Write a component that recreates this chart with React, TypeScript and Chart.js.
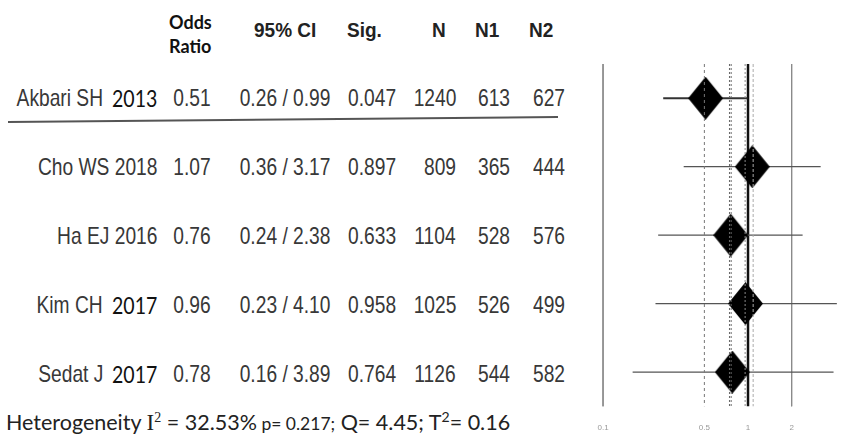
import React, { useEffect, useRef } from "react";
import { Chart, registerables } from "chart.js";

Chart.register(...registerables);

// ---------- data ----------
const studyNames = ["Akbari SH", "Cho WS", "Ha EJ", "Kim CH", "Sedat J"];
const studyYears = ["2013", "2018", "2016", "2017", "2017"];
const yearOwnFont = [true, false, false, true, true];
const oddsRatio = [0.51, 1.07, 0.76, 0.96, 0.78];
const ciLow = [0.26, 0.36, 0.24, 0.23, 0.16];
const ciHigh = [0.99, 3.17, 2.38, 4.1, 3.89];
const sigValues = ["0.047", "0.897", "0.633", "0.958", "0.764"];
const nTotal = [1240, 809, 1104, 1025, 1126];
const nGroup1 = [613, 365, 528, 526, 544];
const nGroup2 = [627, 444, 576, 499, 582];
const xTickValues = [0.1, 0.5, 1, 2];
const refLineValues = [0.1, 0.5, 0.745, 0.765, 0.955, 1, 1.085, 2];
const heterogeneity = { i2: "32.53%", p: "0.217", q: "4.45", t2: "0.16" };

// ---------- styles (kept separate from data) ----------
const refLineColors = ["#8a8a8a", "#777", "#666", "#666", "#888", "#111", "#aaa", "#8a8a8a"];
const refLineWidths = [1, 1, 1, 1, 1, 2.5, 1, 1];
const refLineDashes: number[][] = [[], [3, 3], [2, 2], [2, 2], [2, 2], [], [3, 2], []];

const W = 846;
const H = 436;
const ROW_TOP = 0.5;
const ROW_BOTTOM = 5.5;
const Y_MAX = 5.7;
const AREA_TOP = 64;
const AREA_BOTTOM = 422;
const ARIAL = '"Liberation Sans", Arial, sans-serif';
const CAL = 'Lato, "Open Sans", sans-serif';

// row pixel centres (same geometry as the chart's y scale)
const PX_PER_ROW = (AREA_BOTTOM - AREA_TOP) / (Y_MAX - ROW_TOP);
const rowY = (i: number) => AREA_TOP + (i + 1 - ROW_TOP) * PX_PER_ROW;

function makeDiamond(w: number, h: number) {
  const c = document.createElement("canvas");
  c.width = w;
  c.height = h;
  const ctx = c.getContext("2d")!;
  ctx.fillStyle = "#000";
  ctx.beginPath();
  ctx.moveTo(w / 2, 0);
  ctx.lineTo(w, h / 2);
  ctx.lineTo(w / 2, h);
  ctx.lineTo(0, h / 2);
  ctx.closePath();
  ctx.fill();
  return c;
}

const Cell: React.FC<{ right: number; y: number; children: React.ReactNode; style?: React.CSSProperties }> = ({
  right,
  y,
  children,
  style,
}) => (
  <div
    style={{
      position: "absolute",
      right: W - right,
      top: y - 14,
      height: 28,
      lineHeight: "28px",
      fontSize: 24,
      fontFamily: ARIAL,
      color: "#383838",
      whiteSpace: "nowrap",
      transform: "scaleX(0.8)",
      transformOrigin: "right center",
      ...style,
    }}
  >
    {children}
  </div>
);

const Head: React.FC<{ left: number; y: number; children: React.ReactNode; style?: React.CSSProperties }> = ({
  left,
  y,
  children,
  style,
}) => (
  <div
    style={{
      position: "absolute",
      left,
      top: y - 12,
      height: 24,
      lineHeight: "24px",
      fontSize: 20,
      fontWeight: 700,
      fontFamily: ARIAL,
      color: "#222",
      whiteSpace: "nowrap",
      transform: "scaleX(0.95)",
      transformOrigin: "left center",
      ...style,
    }}
  >
    {children}
  </div>
);

export default function App() {
  const canvasRef = useRef<HTMLCanvasElement>(null);

  useEffect(() => {
    if (!canvasRef.current) return;
    const diamond = makeDiamond(35, 43);
    const datasets: any[] = [];

    refLineValues.forEach((v, i) => {
      datasets.push({
        type: "scatter",
        showLine: true,
        data: [
          { x: v, y: ROW_TOP },
          { x: v, y: ROW_BOTTOM },
        ],
        borderColor: refLineColors[i],
        borderWidth: refLineWidths[i],
        borderDash: refLineDashes[i],
        pointRadius: 0,
        order: refLineDashes[i].length ? 0 : 3,
      });
    });

    oddsRatio.forEach((_, i) => {
      datasets.push({
        type: "scatter",
        showLine: true,
        data: [
          { x: ciLow[i], y: i + 1 },
          { x: ciHigh[i], y: i + 1 },
        ],
        borderColor: i === 0 ? "#333" : "#555",
        borderWidth: i === 0 ? 2 : 1.2,
        pointRadius: 0,
        order: 2,
      });
    });

    datasets.push({
      type: "scatter",
      data: oddsRatio.map((v, i) => ({ x: v, y: i + 1 })),
      pointStyle: diamond,
      pointRadius: 17,
      order: 1,
    });

    const chart = new Chart(canvasRef.current, {
      type: "scatter",
      data: { datasets },
      options: {
        animation: false,
        responsive: false,
        events: [],
        layout: { autoPadding: false, padding: { left: 596.4, right: 1.9, top: AREA_TOP, bottom: 0 } },
        plugins: { legend: { display: false }, tooltip: { enabled: false }, title: { display: false } },
        scales: {
          x: {
            type: "logarithmic",
            min: 0.09,
            max: 4.6,
            position: "bottom",
            grid: { display: false, drawTicks: false },
            border: { display: false },
            afterBuildTicks: (axis: any) => {
              axis.ticks = xTickValues.map((v) => ({ value: v }));
            },
            ticks: {
              autoSkip: false,
              maxRotation: 0,
              padding: 4,
              color: "#999",
              font: { size: 8, family: ARIAL, lineHeight: 1 },
              callback: (value: any) => (xTickValues.includes(Number(value)) ? String(value) : ""),
            },
          },
          y: {
            type: "linear",
            display: false,
            reverse: true,
            min: ROW_TOP,
            max: Y_MAX,
          },
        },
      },
    });
    return () => chart.destroy();
  }, []);

  return (
    <div style={{ position: "relative", width: W, height: H, overflow: "hidden", background: "#fff" }}>
      <style>{`body{margin:0;overflow:hidden}`}</style>

      {/* headers */}
      <div
        style={{
          position: "absolute",
          left: 169,
          top: 10,
          fontFamily: CAL,
          fontWeight: 700,
          fontSize: 18,
          lineHeight: "24px",
          color: "#111",
        }}
      >
        Odds
        <br />
        Ratio
      </div>
      <Head left={254} y={30}>95% CI</Head>
      <Head left={347} y={30}>Sig.</Head>
      <Head left={432} y={30}>N</Head>
      <Head left={475} y={30}>N1</Head>
      <Head left={529} y={30}>N2</Head>

      {/* rows */}
      {studyNames.map((name, i) => {
        const y = rowY(i);
        return (
          <React.Fragment key={name}>
            {yearOwnFont[i] ? (
              <>
                <Cell right={103} y={y}>
                  {name}
                </Cell>
                <div
                  style={{
                    position: "absolute",
                    right: W - 157,
                    top: y - 14,
                    height: 28,
                    lineHeight: "28px",
                    fontFamily: CAL,
                    fontSize: 23,
                    color: "#111",
                    whiteSpace: "nowrap",
                    transform: "scaleX(0.85)",
                    transformOrigin: "right center",
                  }}
                >
                  {studyYears[i]}
                </div>
              </>
            ) : (
              <Cell right={157} y={y}>
                {name} {studyYears[i]}
              </Cell>
            )}
            <Cell right={211} y={y}>
              {oddsRatio[i].toFixed(2)}
            </Cell>
            <Cell right={330} y={y}>
              {ciLow[i].toFixed(2)} / {ciHigh[i].toFixed(2)}
            </Cell>
            <Cell right={396} y={y}>
              {sigValues[i]}
            </Cell>
            <Cell right={456} y={y}>
              {nTotal[i]}
            </Cell>
            <Cell right={510} y={y}>
              {nGroup1[i]}
            </Cell>
            <Cell right={565} y={y}>
              {nGroup2[i]}
            </Cell>
          </React.Fragment>
        );
      })}

      <svg style={{ position: "absolute", left: 0, top: 0 }} width={600} height={140}>
        <line x1={8} y1={122} x2={558} y2={117} stroke="#555" strokeWidth={2} />
      </svg>

      {/* heterogeneity footer */}
      <div
        style={{
          position: "absolute",
          left: 6,
          top: 408,
          height: 28,
          lineHeight: "28px",
          fontFamily: CAL,
          fontSize: 21.5,
          color: "#222",
          whiteSpace: "nowrap",
        }}
      >
        Heterogeneity{" "}
        <span style={{ fontFamily: '"Liberation Serif", serif', fontSize: 23 }}>I</span>
        <span style={{ fontFamily: '"Liberation Serif", serif', fontSize: 14, position: "relative", top: -8 }}>2</span>{" "}
        = {heterogeneity.i2}
        <span style={{ fontSize: 17.5 }}> p= {heterogeneity.p};</span> Q= {heterogeneity.q}; T
        <span style={{ fontSize: 14, position: "relative", top: -8 }}>2</span>= {heterogeneity.t2}
      </div>

      <canvas
        ref={canvasRef}
        width={W}
        height={H}
        style={{ position: "absolute", left: 0, top: 0, width: W, height: H }}
      />
    </div>
  );
}
